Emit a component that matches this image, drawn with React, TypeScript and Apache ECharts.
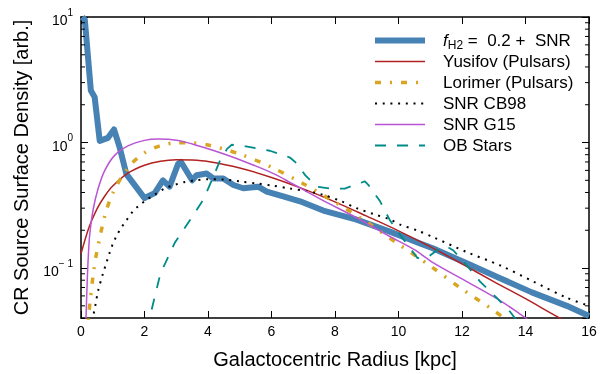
import React, { useEffect, useRef } from "react";
import * as echarts from "echarts";

const FONT = "'Liberation Sans', Arial, sans-serif";

// ---- data ----
const blueName = "fH2 = 0.2 + SNR";
const blueR = [0.04, 0.12, 0.31, 0.43, 0.59, 0.85, 1.04, 1.22, 1.43, 2.0, 2.32, 2.58, 2.79, 3.06, 3.15, 3.5, 3.64, 3.96, 4.17, 4.48, 4.8, 5.11, 5.58, 5.85, 6.37, 6.9, 7.63, 8.68, 9.73, 10.68, 11.1, 12.15, 13.2, 14.2, 15.3, 16.0];
const blueV = [10.0, 9.5, 2.6, 2.3, 1.03, 1.09, 1.27, 0.91, 0.56, 0.361, 0.395, 0.5, 0.445, 0.677, 0.7, 0.5, 0.549, 0.566, 0.517, 0.517, 0.459, 0.432, 0.445, 0.407, 0.372, 0.34, 0.287, 0.243, 0.195, 0.157, 0.143, 0.109, 0.083, 0.064, 0.05, 0.0415];

const yusName = "Yusifov (Pulsars)";
const yusR = [0, 0.25, 0.5, 0.75, 1, 1.5, 2, 2.5, 3, 3.5, 4, 5, 6, 7, 8, 9, 10, 11, 12, 13, 14, 15, 16];
const yusV = [0.13, 0.21, 0.295, 0.375, 0.45, 0.575, 0.66, 0.71, 0.73, 0.725, 0.705, 0.627, 0.527, 0.427, 0.337, 0.259, 0.198, 0.148, 0.108, 0.078, 0.057, 0.041, 0.03];

const lorName = "Lorimer (Pulsars)";
const lorR = [0.15, 0.2, 0.25, 0.3, 0.4, 0.5, 0.75, 1, 1.5, 2, 2.5, 3, 3.5, 4, 5, 6, 7, 8, 9, 10, 11, 12, 13, 13.5];
const lorV = [0.018, 0.03, 0.044, 0.058, 0.095, 0.135, 0.26, 0.395, 0.64, 0.828, 0.943, 0.995, 0.993, 0.955, 0.81, 0.636, 0.47, 0.335, 0.232, 0.155, 0.104, 0.068, 0.046, 0.037];

const cbName = "SNR CB98";
const cbR = [0.3, 0.38, 0.45, 0.54, 0.69, 0.8, 0.9, 1.0, 1.14, 1.27, 1.43, 1.64, 1.8, 2.0, 2.32, 2.64, 2.95, 3.27, 3.6, 4.0, 4.48, 5.0, 5.53, 6.0, 6.58, 7.1, 7.63, 8.2, 8.68, 9.2, 9.73, 10.05, 10.62, 11.1, 12.15, 13.2, 14.25, 15.3, 16.0];
const cbV = [0.033, 0.041, 0.05, 0.066, 0.09, 0.11, 0.132, 0.155, 0.185, 0.21, 0.24, 0.284, 0.31, 0.34, 0.385, 0.43, 0.46, 0.485, 0.5, 0.51, 0.508, 0.49, 0.472, 0.455, 0.43, 0.41, 0.383, 0.34, 0.3, 0.27, 0.244, 0.222, 0.198, 0.176, 0.134, 0.105, 0.078, 0.058, 0.05];

const g15Name = "SNR G15";
const g15R = [0.1, 0.15, 0.2, 0.27, 0.38, 0.54, 0.75, 1.06, 1.48, 2.0, 2.43, 3.06, 3.5, 4.2, 5.06, 6.1, 6.6, 7.6, 8.7, 9.7, 10.5, 11.1, 12.15, 13.2, 13.83, 14.2];
const g15V = [0.02, 0.035, 0.085, 0.18, 0.29, 0.43, 0.6, 0.79, 0.94, 1.04, 1.065, 1.04, 0.975, 0.86, 0.72, 0.56, 0.478, 0.348, 0.25, 0.18, 0.14, 0.11, 0.078, 0.055, 0.043, 0.037];

const obName = "OB Stars";
const obR = [2.0, 2.16, 2.5, 2.96, 3.43, 3.85, 4.12, 4.38, 4.6, 4.75, 5.2, 5.95, 6.58, 6.8, 7.06, 7.42, 7.84, 8.31, 8.94, 9.05, 9.42, 9.73, 10.15, 10.6, 10.94, 11.2, 11.5, 11.73, 12.15, 12.57, 13.09, 13.51, 13.8];
const obV = [0.032, 0.04, 0.09, 0.16, 0.24, 0.35, 0.5, 0.72, 0.89, 0.96, 0.93, 0.86, 0.76, 0.68, 0.55, 0.445, 0.43, 0.43, 0.49, 0.46, 0.34, 0.24, 0.17, 0.12, 0.123, 0.138, 0.15, 0.138, 0.105, 0.078, 0.058, 0.045, 0.036];

const xMin = 0;
const xMax = 16;
const xInterval = 2;
const yMin = 0.04;
const yMax = 10;
const yDecades = [0.01, 0.1, 1];
const minorMultipliers = [2, 3, 4, 5, 6, 7, 8, 9];

const pairs = (xs: number[], ys: number[]) => xs.map((x, i) => [x, ys[i]]);

const minorTickValues: number[] = [];
for (const d of yDecades) {
  for (const k of minorMultipliers) {
    const v = +(k * d).toPrecision(3);
    if (v > yMin + 1e-9 && v < yMax) minorTickValues.push(v);
  }
}

const yLabel = (v: number) => {
  const e = Math.log10(v);
  const r = Math.round(e);
  if (Math.abs(e - r) > 1e-6) return "";
  const exp = r < 0 ? "\u2212 " + String(-r) : String(r);
  return "{b|10}{e|" + exp + "}";
};

export default function App() {
  const ref = useRef<HTMLDivElement>(null);
  useEffect(() => {
    document.body.style.margin = "0";
    const chart = echarts.init(ref.current!, undefined, { renderer: "svg" });
    const axisLine = { show: true, onZero: false, lineStyle: { color: "#000", width: 1.5 } };
    const tick = { show: true, inside: true, length: 7, lineStyle: { color: "#000", width: 1 } };
    const lineSeries = (name: string, xs: number[], ys: number[], color: string, width: number, type: any, smooth: number | boolean) => ({
      name,
      type: "line",
      data: pairs(xs, ys),
      showSymbol: false,
      symbol: "none",
      smooth,
      clip: true,
      itemStyle: { color },
      lineStyle: { color, width, type, cap: "butt", join: "round" },
      emphasis: { disabled: true },
    });
    chart.setOption({
      animation: false,
      grid: { left: 81, right: 12, top: 17, bottom: 50.5, containLabel: false },
      legend: {
        orient: "vertical",
        left: 367,
        top: 25,
        itemWidth: 50,
        itemHeight: 14,
        itemGap: 0,
        selectedMode: false,
        data: [blueName, yusName, lorName, cbName, g15Name, obName],
        formatter: (name: string) => (name === blueName ? "{i|f}{s|H2}{n| =  0.2 +  SNR}" : name),
        itemStyle: { opacity: 0, borderWidth: 0 },
        lineStyle: { width: "inherit" },
        textStyle: {
          fontFamily: FONT,
          fontSize: 17,
          color: "#000",
          lineHeight: 21,
          padding: [0, 0, 0, 13],
          rich: {
            i: { fontFamily: FONT, fontSize: 17, fontStyle: "italic", color: "#000", lineHeight: 21 },
            s: { fontFamily: FONT, fontSize: 12, color: "#000", lineHeight: 12, verticalAlign: "bottom" },
            n: { fontFamily: FONT, fontSize: 17, color: "#000", lineHeight: 21 },
          },
        },
      },
      xAxis: [
        {
          type: "value",
          min: xMin,
          max: xMax,
          interval: xInterval,
          position: "bottom",
          axisLine,
          axisTick: tick,
          splitLine: { show: false },
          axisLabel: { fontFamily: FONT, fontSize: 14, color: "#000", margin: 6 },
          name: "Galactocentric Radius [kpc]",
          nameLocation: "middle",
          nameGap: 31,
          nameTextStyle: { fontFamily: FONT, fontSize: 20, color: "#000" },
        },
        {
          type: "value",
          min: xMin,
          max: xMax,
          interval: xInterval,
          position: "top",
          axisLine,
          axisTick: tick,
          splitLine: { show: false },
          axisLabel: { show: false },
        },
      ],
      yAxis: [
        {
          type: "log",
          logBase: 10,
          min: yMin,
          max: yMax,
          position: "left",
          axisLine,
          axisTick: tick,
          splitLine: { show: false },
          minorTick: { show: false },
          axisLabel: {
            formatter: yLabel,
            margin: 8,
            rich: {
              b: { fontFamily: FONT, fontSize: 14, color: "#000", lineHeight: 20, verticalAlign: "bottom" },
              e: { fontFamily: FONT, fontSize: 10, color: "#000", lineHeight: 10, verticalAlign: "top" },
            },
          },
          name: "CR Source Surface Density [arb.]",
          nameLocation: "middle",
          nameGap: 50,
          nameTextStyle: { fontFamily: FONT, fontSize: 20, color: "#000" },
        },
        {
          type: "log",
          logBase: 10,
          min: yMin,
          max: yMax,
          position: "right",
          axisLine,
          axisTick: tick,
          splitLine: { show: false },
          axisLabel: { show: false },
        },
      ],
      series: [
        lineSeries(blueName, blueR, blueV, "#4682b4", 6, "solid", false),
        lineSeries(yusName, yusR, yusV, "#b22222", 1.5, "solid", 0.3),
        lineSeries(lorName, lorR, lorV, "#daa520", 3.5, [6, 9, 2, 9], 0.3),
        lineSeries(cbName, cbR, cbV, "#000000", 2, [2, 5.7], 0.3),
        lineSeries(g15Name, g15R, g15V, "#ba55d3", 1.5, "solid", 0.3),
        lineSeries(obName, obR, obV, "#008b8b", 1.8, [11, 11], false),
        {
          type: "custom",
          silent: true,
          coordinateSystem: "cartesian2d",
          xAxisIndex: 0,
          yAxisIndex: 0,
          clip: false,
          z: 10,
          data: minorTickValues.map((v) => [xMin, v]),
          renderItem: (params: any, api: any) => {
            const v = api.value(1);
            const a = api.coord([xMin, v]);
            const b = api.coord([xMax, v]);
            return {
              type: "group",
              children: [
                { type: "line", shape: { x1: a[0], y1: a[1], x2: a[0] + 4, y2: a[1] }, style: { stroke: "#000", lineWidth: 1 } },
                { type: "line", shape: { x1: b[0] - 4, y1: b[1], x2: b[0], y2: b[1] }, style: { stroke: "#000", lineWidth: 1 } },
              ],
            };
          },
        },
      ],
    });
    return () => chart.dispose();
  }, []);
  return <div ref={ref} style={{ position: "fixed", left: 0, top: 0, width: 601, height: 374 }} />;
}
